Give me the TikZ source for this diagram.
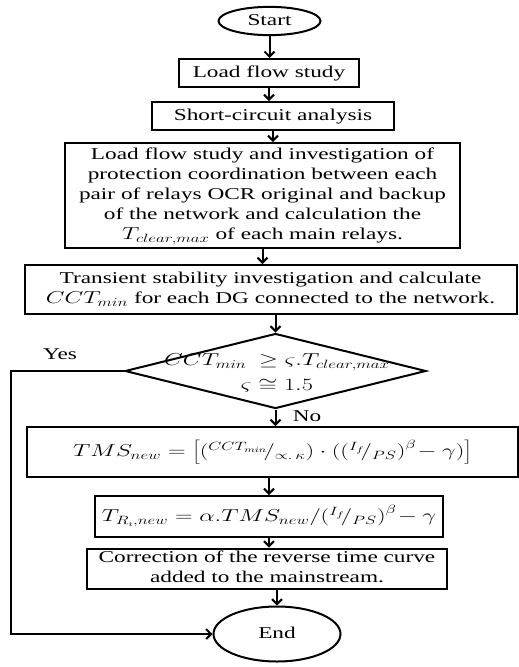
\documentclass[tikz,border=0pt]{standalone}
\usepackage{fontspec}
\setmainfont{Liberation Serif}
\usetikzlibrary{shapes.geometric,arrows.meta}
\newcommand{\wt}[1]{\scalebox{1.41}[1]{\begin{tabular}{@{}c@{}}#1\end{tabular}}}
\begin{document}
\begin{tikzpicture}[x=1pt,y=-1pt,
  every node/.style={font=\fontsize{16.5}{20}\selectfont},
  box/.style={draw,line width=2pt,rectangle,inner sep=0pt,align=center},
  term/.style={draw,line width=2pt,ellipse,inner sep=0pt},
  arr/.style={line width=2pt,-{Straight Barb[length=5pt,width=10pt,line width=2pt]}}]
\useasboundingbox (0,0) rectangle (519,667);
\node[term,minimum width=102,minimum height=28] (start) at (269.5,21) {\wt{Start}};
\node[box,minimum width=180,minimum height=28] (load) at (269,73) {\wt{Load flow study}};
\node[box,minimum width=242,minimum height=28] (short) at (273,116) {\wt{Short-circuit analysis}};
\node[box,minimum width=395,minimum height=105] (big) at (262.5,195.5) {\wt{Load flow study and investigation of\\protection coordination between each\\pair of relays OCR original and backup\\of the network and calculation the\\$T_{clear,max}$ of each main relays.}};
\node[box,minimum width=492,minimum height=49] (trans) at (270.5,289.5) {\wt{Transient stability investigation and calculate\\$CCT_{min}$ for each DG connected to the network.}};
\node[draw,line width=2pt,diamond,inner sep=0pt,minimum width=301,minimum height=75] (dia) at (275.5,371) {};
\node (diatext) at (277,374) {\wt{$CCT_{min}\ \geq \varsigma.T_{clear,max}$\\[5pt]$\varsigma\cong 1.5$}};
\node[box,minimum width=491,minimum height=50] (tms) at (272.5,452) {\wt{$TMS_{new}=\biggl[\Bigl({}^{CCT_{min}}\!/_{\propto.\,\kappa}\Bigr)\cdot\bigl(\bigl({}^{I_f}\!/_{PS}\bigr)^{\beta}\!-\gamma\bigr)\biggr]$}};
\node[box,minimum width=348,minimum height=41] (tr) at (269,516.5) {\wt{$T_{R_\imath,new}=\alpha.TMS_{new}/\bigl({}^{I_f}\!/_{PS}\bigr)^{\beta}\!-\gamma$}};
\node[box,minimum width=360,minimum height=38] (corr) at (267,568.5) {\wt{Correction of the reverse time curve\\added to the mainstream.}};
\node[term,minimum width=127,minimum height=55] (end) at (277,634) {\wt{End}};
\coordinate (lc) at (11,371);
\draw[arr] (start.south) -- (start.south |- load.north);
\draw[arr] (load.south) -- (load.south |- short.north);
\draw[arr] (short.south) -- (short.south |- big.north);
\draw[arr] (big.south) -- (big.south |- trans.north);
\draw[arr] (dia.north |- trans.south) -- (dia.north);
\draw[arr] (dia.south) -- (dia.south |- tms.north);
\draw[arr] (tr.north |- tms.south) -- (tr.north);
\draw[arr] (tr.south) -- (tr.south |- corr.north);
\draw[arr] (end.north |- corr.south) -- (end.north);
\draw[arr] (dia.west) -- (lc) |- (end.west);
\node (yes) at (60,355) {\wt{Yes}};
\node (no) at (307,417) {\wt{No}};
\end{tikzpicture}
\end{document}
